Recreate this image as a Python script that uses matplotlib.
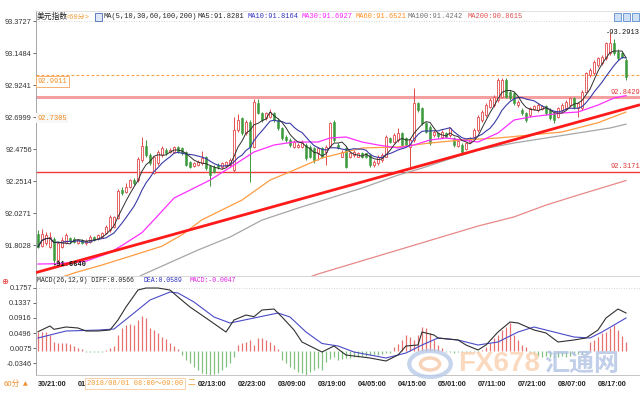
import numpy as np
import pandas as pd
import matplotlib
matplotlib.use("Agg")
import matplotlib.pyplot as plt
from matplotlib.patches import Rectangle, Circle

# ---- candles (hourly, 60分) ----
opens = [
    91.880, 91.798, 91.814, 91.791, 91.842, 91.698, 91.791, 91.814, 91.849, 91.842,
    91.819, 91.838, 91.814, 91.826, 91.856, 91.842, 91.861, 91.884, 91.908, 91.931,
    91.990, 92.188, 92.176, 92.212, 92.258, 92.258, 92.398, 92.499, 92.433, 92.310,
    92.375, 92.433, 92.469, 92.457, 92.457, 92.492, 92.480, 92.457, 92.387, 92.356,
    92.363, 92.375, 92.422, 92.356, 92.352, 92.363, 92.347, 92.356, 92.363, 92.328,
    92.609, 92.690, 92.585, 92.667, 92.492, 92.796, 92.726, 92.690, 92.702, 92.726,
    92.679, 92.620, 92.562, 92.539, 92.492, 92.492, 92.492, 92.504, 92.492, 92.480,
    92.445, 92.480, 92.457,
    92.497, 92.667, 92.504, 92.422, 92.480, 92.417, 92.434, 92.422, 92.450, 92.445,
    92.434, 92.364, 92.375, 92.399, 92.422, 92.550, 92.527, 92.539, 92.585, 92.550,
    92.487, 92.539, 92.796, 92.761, 92.655, 92.632, 92.574, 92.585, 92.562, 92.585,
    92.574, 92.550, 92.497, 92.504, 92.473, 92.527, 92.562, 92.609, 92.679, 92.714,
    92.772, 92.784, 92.819, 92.842, 92.959, 92.877, 92.866, 92.784, 92.749, 92.726,
    92.714, 92.754, 92.749, 92.754, 92.777, 92.749, 92.726, 92.702, 92.749, 92.761,
    92.784, 92.831, 92.761, 92.761, 92.877, 92.994, 93.006, 93.064, 93.076, 93.111,
    93.146, 93.216, 93.158, 93.146, 93.099,
]
closes = [
    91.791, 91.880, 91.873, 91.861, 91.698, 91.814, 91.838, 91.873, 91.831, 91.824,
    91.838, 91.819, 91.833, 91.861, 91.838, 91.870, 91.889, 91.931, 92.001, 91.997,
    92.183, 92.165, 92.212, 92.258, 92.235, 92.403, 92.497, 92.433, 92.375, 92.417,
    92.457, 92.480, 92.445, 92.469, 92.492, 92.457, 92.445, 92.363, 92.352, 92.375,
    92.387, 92.410, 92.340, 92.293, 92.317, 92.347, 92.375, 92.387, 92.398, 92.609,
    92.679, 92.585, 92.667, 92.492, 92.807, 92.726, 92.679, 92.726, 92.737, 92.679,
    92.620, 92.550, 92.539, 92.504, 92.527, 92.504, 92.527, 92.410, 92.422, 92.398,
    92.480, 92.422, 92.492,
    92.655, 92.539, 92.480, 92.457, 92.352, 92.450, 92.457, 92.450, 92.417, 92.422,
    92.364, 92.387, 92.422, 92.434, 92.562, 92.527, 92.574, 92.585, 92.504, 92.504,
    92.539, 92.796, 92.749, 92.655, 92.597, 92.515, 92.597, 92.567, 92.597, 92.562,
    92.620, 92.504, 92.534, 92.457, 92.515, 92.550, 92.609, 92.702, 92.737, 92.784,
    92.819, 92.842, 92.959, 92.959, 92.842, 92.831, 92.796, 92.807, 92.726, 92.679,
    92.761, 92.777, 92.784, 92.777, 92.726, 92.691, 92.679, 92.761, 92.784, 92.807,
    92.831, 92.768, 92.796, 92.877, 93.006, 93.029, 93.088, 93.111, 93.123, 93.216,
    93.216, 93.146, 93.111, 93.123, 92.983,
]
highs = [
    91.908, 91.912, 91.896, 91.896, 91.861, 91.826, 91.861, 91.884, 91.861, 91.856,
    91.847, 91.847, 91.842, 91.873, 91.866, 91.879, 91.896, 91.941, 92.013, 92.006,
    92.193, 92.212, 92.235, 92.268, 92.270, 92.422, 92.562, 92.539, 92.445, 92.426,
    92.469, 92.497, 92.480, 92.480, 92.497, 92.497, 92.492, 92.461, 92.394, 92.387,
    92.398, 92.461, 92.426, 92.363, 92.363, 92.375, 92.384, 92.394, 92.410, 92.697,
    92.719, 92.702, 92.679, 92.679, 92.824, 92.824, 92.737, 92.737, 92.754, 92.737,
    92.690, 92.632, 92.574, 92.550, 92.539, 92.515, 92.539, 92.515, 92.504, 92.492,
    92.492, 92.492, 92.504,
    92.667, 92.679, 92.515, 92.467, 92.497, 92.457, 92.467, 92.457, 92.457, 92.450,
    92.445, 92.399, 92.434, 92.445, 92.574, 92.562, 92.585, 92.620, 92.597, 92.562,
    92.550, 92.901, 92.807, 92.772, 92.667, 92.643, 92.609, 92.597, 92.609, 92.597,
    92.632, 92.562, 92.543, 92.515, 92.527, 92.562, 92.620, 92.714, 92.749, 92.796,
    92.831, 92.854, 92.971, 92.971, 92.971, 92.889, 92.877, 92.819, 92.761, 92.737,
    92.772, 92.784, 92.796, 92.784, 92.784, 92.761, 92.737, 92.772, 92.796, 92.819,
    92.842, 92.842, 92.807, 92.889, 93.018, 93.041, 93.099, 93.123, 93.135, 93.228,
    93.2913, 93.250, 93.180, 93.158, 93.111,
]
lows = [
    91.779, 91.791, 91.803, 91.779, 91.664, 91.679, 91.779, 91.810, 91.819, 91.814,
    91.810, 91.810, 91.805, 91.819, 91.828, 91.838, 91.852, 91.880, 91.896, 91.920,
    91.983, 92.153, 92.169, 92.200, 92.223, 92.247, 92.387, 92.422, 92.363, 92.298,
    92.363, 92.422, 92.433, 92.450, 92.450, 92.450, 92.433, 92.356, 92.340, 92.347,
    92.356, 92.363, 92.328, 92.216, 92.305, 92.338, 92.338, 92.347, 92.352, 92.317,
    92.597, 92.574, 92.574, 92.247, 92.480, 92.719, 92.667, 92.679, 92.690, 92.667,
    92.609, 92.539, 92.527, 92.492, 92.480, 92.480, 92.480, 92.398, 92.410, 92.380,
    92.398, 92.410, 92.363,
    92.487, 92.527, 92.473, 92.417, 92.340, 92.410, 92.422, 92.417, 92.410, 92.410,
    92.352, 92.352, 92.364, 92.387, 92.417, 92.515, 92.515, 92.527, 92.497, 92.497,
    92.352, 92.527, 92.737, 92.643, 92.585, 92.504, 92.562, 92.555, 92.550, 92.550,
    92.562, 92.492, 92.487, 92.450, 92.467, 92.515, 92.550, 92.597, 92.667, 92.702,
    92.761, 92.772, 92.807, 92.831, 92.831, 92.819, 92.784, 92.772, 92.714, 92.667,
    92.702, 92.749, 92.737, 92.749, 92.714, 92.679, 92.655, 92.691, 92.737, 92.749,
    92.772, 92.754, 92.702, 92.749, 92.866, 92.983, 92.994, 93.052, 93.064, 93.099,
    93.135, 93.135, 93.099, 93.111, 92.959,
]

# ---- longer moving averages (bar index, price) ----
ma30_idx = [0, 5, 12, 18, 21, 26, 30, 34, 43, 49, 54, 59, 64, 70, 73, 77, 81, 85, 90, 94,
            98, 102, 106, 110, 115, 119, 123, 127, 131, 135, 140, 144, 147]
ma30_val = [91.670, 91.672, 91.690, 91.750, 91.800, 91.890, 92.010, 92.132, 92.258, 92.364,
            92.455, 92.504, 92.525, 92.525, 92.553, 92.560, 92.525, 92.504, 92.483, 92.504,
            92.539, 92.553, 92.539, 92.525, 92.588, 92.679, 92.700, 92.714, 92.728, 92.735,
            92.784, 92.833, 92.850]
ma60_idx = [4, 9, 16, 24, 31, 36, 41, 51, 58, 64, 71, 81, 90, 98, 106, 115, 123, 131, 140, 147]
ma60_val = [91.560, 91.607, 91.663, 91.733, 91.795, 91.875, 91.980, 92.118, 92.258, 92.328,
            92.413, 92.483, 92.490, 92.518, 92.539, 92.553, 92.574, 92.595, 92.660, 92.735]
ma100_idx = [24, 26, 40, 48, 56, 65, 73, 81, 90, 96, 102, 110, 119, 127, 135, 143, 147]
ma100_val = [91.560, 91.593, 91.768, 91.859, 91.978, 92.062, 92.132, 92.202, 92.293, 92.342,
             92.398, 92.469, 92.518, 92.553, 92.588, 92.623, 92.650]
ma200_idx = [66, 70, 90, 110, 119, 127, 135, 147]
ma200_val = [91.560, 91.600, 91.768, 91.936, 92.000, 92.083, 92.153, 92.255]

# trend line and horizontal levels
trend_x = [-0.5, 150.5]
trend_y = [91.610, 92.786]
level_pink = 92.8429
level_red = 92.3171
level_dash = 92.9911

main_ticks = [93.3727, 93.1484, 92.9241, 92.6999, 92.4756, 92.2514, 92.0271, 91.8028]
macd_ticks = [0.1757, 0.1337, 0.0916, 0.0496, 0.0075, -0.0346]

# ---- MACD(26,12,9) ----
macd_hist = [
    0.0535, 0.0535, 0.0535, 0.0439, 0.0259, 0.0231, 0.0212, 0.0212, 0.0194, 0.0139,
    0.0074, 0.0046, -0.0018, -0.0018, -0.0018, -0.0018, -0.0018, 0.0030, 0.0074, 0.0139,
    0.0443, 0.0628, 0.0720, 0.0748, 0.0720, 0.0859, 0.0970, 0.0905, 0.0628, 0.0582,
    0.0508, 0.0397, 0.0323, 0.0231, 0.0139, 0.0046, -0.0111, -0.0249, -0.0342, -0.0434,
    -0.0526, -0.0600, -0.0637, -0.0665, -0.0637, -0.0600, -0.0526, -0.0434, -0.0342, -0.0157,
    0.0166, 0.0231, 0.0259, 0.0305, 0.0166, 0.0351, 0.0351, 0.0305, 0.0259, 0.0166,
    0.0046, -0.0249, -0.0342, -0.0434, -0.0507, -0.0572, -0.0618, -0.0693, -0.0572, -0.0526,
    -0.0480, -0.0526, -0.0296, -0.0220, -0.0157, -0.0249, -0.0231, -0.0203, -0.0203, -0.0175,
    -0.0175, -0.0139, -0.0139, -0.0111, -0.0111, -0.0111, -0.0083, -0.0046, -0.0046, 0.0120,
    0.0194, 0.0305, 0.0443, 0.0397, 0.0305, 0.0443, 0.0674, 0.0628, 0.0490, 0.0305,
    0.0166, 0.0074, -0.0018, -0.0030, -0.0046, -0.0030, -0.0046, -0.0046, -0.0030, -0.0018,
    -0.0018, 0.0030, 0.0120, 0.0212, 0.0351, 0.0443, 0.0582, 0.0674, 0.0766, 0.0443,
    0.0305, 0.0166, 0.0120, -0.0046, -0.0111, -0.0139, -0.0157, -0.0139, -0.0175, -0.0203,
    -0.0175, -0.0139, -0.0157, -0.0139, -0.0111, -0.0083, -0.0083, -0.0046, 0.0259, 0.0305,
    0.0397, 0.0490, 0.0535, 0.0628, 0.0720, 0.0582, 0.0420, 0.0259,
]
diff_idx = [0, 3, 4, 7, 10, 12, 15, 18, 20, 22, 25, 27, 30, 33, 35, 38, 42, 47, 49, 52,
            54, 56, 59, 61, 64, 66, 70, 71, 74, 77, 83, 87, 90, 92, 95, 96, 99, 100, 105, 107,
            110, 112, 115, 118, 120, 124, 127, 130, 134, 137, 140, 142, 145, 147]
diff_val = [0.0535, 0.0693, 0.0600, 0.0665, 0.0637, 0.0554, 0.0554, 0.0582, 0.0859, 0.1219,
            0.1690, 0.1745, 0.1745, 0.1690, 0.1496, 0.1219, 0.0914, 0.0526, 0.0859, 0.0997,
            0.0950, 0.1136, 0.1163, 0.0942, 0.0582, 0.0249, 0.0028, -0.0028, 0.0139, -0.0111,
            -0.0194, -0.0277, -0.0111, 0.0139, 0.0166, 0.0526, 0.0443, 0.0360, 0.0305, 0.0166,
            0.0028, 0.0166, 0.0526, 0.0803, 0.0776, 0.0582, 0.0499, 0.0249, 0.0305, 0.0360,
            0.0582, 0.0914, 0.1163, 0.1053]
dea_idx = [0, 7, 15, 19, 24, 28, 33, 35, 39, 44, 48, 54, 60, 63, 67, 71, 75, 79, 87, 92,
           96, 100, 105, 110, 115, 120, 124, 129, 134, 138, 141, 147]
dea_val = [0.0360, 0.0554, 0.0580, 0.0609, 0.1053, 0.1413, 0.1634, 0.1607, 0.1357, 0.0942,
           0.0776, 0.0914, 0.1053, 0.0942, 0.0526, 0.0208, 0.0139, -0.0028, -0.0194, -0.0055,
           0.0166, 0.0360, 0.0305, 0.0166, 0.0249, 0.0526, 0.0665, 0.0526, 0.0388, 0.0360,
           0.0526, 0.0914]

time_labels = ["30/21:00", "01/07:00", "01/17:00", "02/03:00", "02/13:00", "02/23:00",
               "03/09:00", "03/19:00", "04/05:00", "04/15:00", "05/01:00", "07/11:00",
               "07/21:00", "08/07:00", "08/17:00"]

RED = "#e24a4a"
GREEN = "#3d9a3d"
MONO = ["Liberation Mono", "Noto Sans CJK SC", "DejaVu Sans"]
CJK = ["Noto Sans CJK SC", "DejaVu Sans"]
plt.rcParams["font.family"] = MONO

W, H = 640, 400
fig = plt.figure(figsize=(6.4, 4.0), dpi=100)


def fx(px):
    return px / W


def fy(py):
    return 1 - py / H


ax = fig.add_axes([fx(36), fy(276), fx(640) - fx(36), fy(11) - fy(276)])
axm = fig.add_axes([fx(36), fy(375), fx(640) - fx(36), fy(276) - fy(375)])

o = np.array(opens); c = np.array(closes); h = np.array(highs); l = np.array(lows)
x = np.arange(len(c))
up = c >= o
cols = np.where(up, RED, GREEN)

# main panel
ax.axhline(main_ticks[0], color="#c8c8c8", lw=0.6, ls=(0, (1, 2)), zorder=1)
ax.axhline(level_pink, color="#f5a0a0", lw=2.2, zorder=2)
ax.axhline(level_red, color="#f03a3a", lw=1.0, zorder=2)
ax.axhline(level_dash, color="#ffa040", lw=0.8, ls=(0, (2.5, 2)), zorder=2)

ax.vlines(x, l, h, colors=cols, lw=0.7, zorder=3)
body_lo = np.minimum(o, c)
body_h = np.maximum(np.abs(c - o), 0.004)
ax.bar(x[up], body_h[up], bottom=body_lo[up], width=0.72, facecolor="white",
       edgecolor=RED, linewidth=0.6, zorder=4)
ax.bar(x[~up], body_h[~up], bottom=body_lo[~up], width=0.72, facecolor=GREEN,
       edgecolor=GREEN, linewidth=0.4, zorder=4)

ma5 = pd.Series(c).rolling(5, min_periods=1).mean()
ma10 = pd.Series(c).rolling(10, min_periods=1).mean()
ax.plot(ma200_idx, ma200_val, color="#e88888", lw=0.9, zorder=5)
ax.plot(ma100_idx, ma100_val, color="#a6a6a6", lw=0.9, zorder=5)
ax.plot(ma60_idx, ma60_val, color="#ff9c40", lw=0.9, zorder=5)
ax.plot(ma30_idx, ma30_val, color="#ff30ff", lw=0.9, zorder=5)
ax.plot(x, ma10, color="#3a3aa8", lw=0.8, zorder=6)
ax.plot(x, ma5, color="#303030", lw=0.7, zorder=6)
ax.plot(trend_x, trend_y, color="#ff1a1a", lw=2.0, zorder=7, solid_capstyle="butt")

ax.set_xlim(-0.5, 150.5)
ax.set_ylim(91.586, 93.443)
ax.set_xticks([])
ax.set_yticks(main_ticks)
ax.set_yticklabels(["%.4f" % t for t in main_ticks], family="Liberation Sans")
ax.tick_params(axis="y", labelsize=5.3, colors="#333333", length=2, width=0.5, pad=1)
ax.spines["right"].set_visible(False)
ax.spines["top"].set_color("#dddddd")
ax.spines["bottom"].set_color("#d0d0d0")
ax.spines["left"].set_color("#999999")
for s in ax.spines.values():
    s.set_linewidth(0.6)

# MACD panel
hist = np.array(macd_hist)
axm.axhline(macd_ticks[0], color="#c8c8c8", lw=0.6, ls=(0, (1, 2)), zorder=1)
axm.vlines(np.arange(len(hist)), 0, hist, colors=np.where(hist >= 0, "#e87070", "#80c080"),
           lw=0.9, zorder=2)
axm.plot(dea_idx, dea_val, color="#4a4ac8", lw=0.8, zorder=3)
axm.plot(diff_idx, diff_val, color="#303030", lw=0.8, zorder=4)
axm.set_xlim(-0.5, 150.5)
axm.set_ylim(-0.0665, 0.2078)
axm.set_yticks(macd_ticks)
axm.set_yticklabels(["%.4f" % t for t in macd_ticks], family="Liberation Sans")
axm.tick_params(axis="y", labelsize=5.3, colors="#333333", length=2, width=0.5, pad=1)
axm.set_xticks([3.5 + 10 * k for k in range(len(time_labels))])
axm.set_xticklabels(time_labels, family="Liberation Sans", fontweight="bold")
axm.tick_params(axis="x", labelsize=5.2, colors="#222222", length=0, pad=4)
axm.spines["right"].set_visible(False)
axm.spines["top"].set_color("#d0d0d0")
axm.spines["bottom"].set_color("#bbbbbb")
axm.spines["left"].set_color("#999999")
for s in axm.spines.values():
    s.set_linewidth(0.6)

# watermark
fig.patches.append(Circle((fx(430), fy(364)), 13 / H, transform=fig.transFigure,
                          fill=False, ec="#b8cbe8", lw=3, alpha=0.8))
fig.patches.append(Circle((fx(430), fy(364)), 6 / H, transform=fig.transFigure,
                          fill=False, ec="#f6c9a8", lw=2.5, alpha=0.8))
fig.text(fx(458), fy(364), "FX678", family="Liberation Sans", fontweight="bold",
         fontsize=20, color="#fbd3b4", alpha=0.85, va="center", ha="left")
fig.text(fx(544), fy(364), "汇通网", family=CJK, fontweight="bold",
         fontsize=18, color="#b5c6e6", alpha=0.85, va="center", ha="left")


def label(px, py, s, color="#222222", size=5.0, **kw):
    fig.text(fx(px), fy(py), s, color=color, fontsize=size, va="center",
             ha=kw.pop("ha", "left"), **kw)


# header of main panel
label(37, 17, "美元指数", size=5.6, family=CJK)
label(66, 17, "<60分>", color="#f0a040", size=5.0)
fig.patches.append(Rectangle((fx(95), fy(21)), 7 / W, 8 / H, transform=fig.transFigure,
                             fc="#dfe8f8", ec="#4a6ab8", lw=0.6))
label(104, 17, "MA(5,10,30,60,100,200)")
label(197, 17, "MA5:91.8281")
label(247, 17, "MA10:91.8164", color="#3030c0")
label(302, 17, "MA30:91.6927", color="#ff20ff")
label(355, 17, "MA60:91.6521", color="#ff8c1a")
label(408, 17, "MA100:91.4242", color="#707070")
label(467, 17, "MA200:90.8615", color="#e05050")
for k in range(3):
    fig.patches.append(Rectangle((fx(614 + 9 * k), fy(21)), 7 / W, 8 / H,
                                 transform=fig.transFigure, fc="#cfe0f4", ec="#5b8fd0", lw=0.6))

# price labels
label(38, 81.5, "92.9911", color="#f08c20",
      bbox=dict(boxstyle="square,pad=0.25", fc="white", ec="#f5b070", lw=0.7))
label(37, 118, "92.7305", color="#f08c20",
      bbox=dict(boxstyle="square,pad=0.15", fc="#f7f7f7", ec="none"))
label(640, 92, "92.8429", color="#e03030", ha="right")
label(640, 167, "92.3171", color="#e03030", ha="right")
label(640, 33, "-93.2913", color="#111111", ha="right")
label(53, 264, "-91.6640", color="#111111", fontweight="bold")

# MACD header
label(37, 281, "MACD(26,12,9) DIFF:0.0566", size=4.7)
label(144, 281, "DEA:0.0589", color="#3030c0", size=4.7)
label(190, 281, "MACD:-0.0047", color="#e020e0", size=4.7)
label(1, 281, "⊕", color="#e03030", size=6, family="DejaVu Sans")

# bottom strip
label(87, 383.5, "2018/08/01 08:00～09:00", color="#f09a30",
      bbox=dict(boxstyle="square,pad=0.3", fc="white", ec="#f8d0a8", lw=0.7))
label(188, 383.5, "二", color="#f09a30", size=5.5, family=CJK)
label(4, 383.5, "60分", color="#f09030", size=5.6, family=CJK)
label(23, 383.5, "▲", color="#f09030", size=4.5, family="DejaVu Sans")

fig.savefig("out.png", dpi=100)
